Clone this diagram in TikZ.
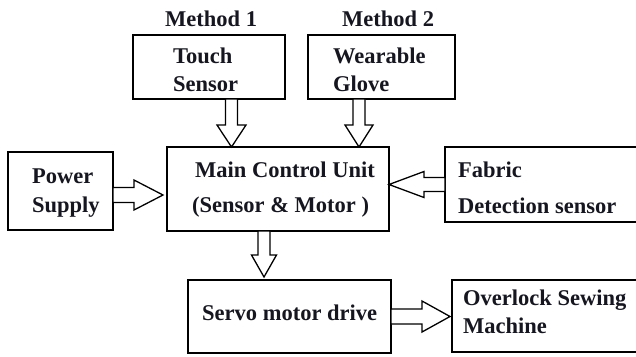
\documentclass[tikz,border=0pt]{standalone}
\usepackage{fontspec}
\setmainfont{Liberation Serif}
\usetikzlibrary{calc}
\definecolor{ink}{HTML}{161620}
\tikzset{
  blk/.style={draw=black, line width=2.6pt, fill=white, inner sep=0pt, outer sep=0pt, anchor=north west},
  lbl/.style={anchor=base west, inner sep=0pt, text=ink, font=\bfseries\fontsize{22.5}{27}\selectfont},
  arr/.style={draw=black, line width=1.3pt, fill=white, line join=miter}
}
\newcommand\blkarrow[5]{%
  \coordinate (hb) at ($(#2)!#5!(#1)$);
  \draw[arr] ($(#1)!#3!90:(#2)$) -- ($(hb)!#3!90:(#2)$) -- ($(hb)!#4!90:(#2)$) -- (#2)
     -- ($(hb)!#4!-90:(#2)$) -- ($(hb)!#3!-90:(#2)$) -- ($(#1)!#3!-90:(#2)$) -- cycle;}
\begin{document}
\begin{tikzpicture}[x=1pt,y=-1pt]
\useasboundingbox (0,0) rectangle (636,356);
% boxes
\node[blk, minimum width=152pt, minimum height=64pt] (ts) at (133,35) {};
\node[blk, minimum width=147pt, minimum height=64pt] (wg) at (308,35) {};
\node[blk, minimum width=105pt, minimum height=78pt] (ps) at (8,152) {};
\node[blk, minimum width=222pt, minimum height=84pt] (mcu) at (167,147) {};
\node[blk, minimum width=195pt, minimum height=75pt] (fd) at (445,147) {};
\node[blk, minimum width=203pt, minimum height=73pt] (smd) at (188,280) {};
\node[blk, minimum width=190pt, minimum height=72pt] (osm) at (452,280) {};
% texts
\node[lbl] (m1) at (165,26) {Method 1};
\node[lbl] (m2) at (342,26) {Method 2};
\node[lbl] (t1) at (173,63) {Touch};
\node[lbl] (t2) at (173,91) {Sensor};
\node[lbl] (w1) at (333,63) {Wearable};
\node[lbl] (w2) at (333,91) {Glove};
\node[lbl] (p1) at (32,183) {Power};
\node[lbl] (p2) at (32,212) {Supply};
\node[lbl] (c1) at (195,177) {Main Control Unit};
\node[lbl] (c2) at (192,212) {(Sensor \& Motor )};
\node[lbl] (f1) at (458,177) {Fabric};
\node[lbl] (f2) at (458,213) {Detection sensor};
\node[lbl] (s1) at (202,320) {Servo motor drive};
\node[lbl] (o1) at (463,305) {Overlock Sewing};
\node[lbl] (o2) at (463,333) {Machine};
% arrows
\coordinate (a1s) at ([xshift=22.5pt]ts.south);
\coordinate (a1e) at (a1s |- mcu.north);
\blkarrow{a1s}{a1e}{6pt}{14.5pt}{22pt}
\coordinate (a2s) at ([xshift=-22.5pt]wg.south);
\coordinate (a2e) at (a2s |- mcu.north);
\blkarrow{a2s}{a2e}{6pt}{14pt}{22pt}
\coordinate (a3s) at ([yshift=-4pt]ps.east);
\coordinate (a3e) at ([xshift=-4pt]a3s -| mcu.west);
\blkarrow{a3s}{a3e}{7.5pt}{15pt}{29pt}
\coordinate (a4s) at (fd.west);
\coordinate (a4e) at (a4s -| mcu.east);
\blkarrow{a4s}{a4e}{7pt}{13pt}{35pt}
\coordinate (a5s) at ([xshift=-14pt]mcu.south);
\coordinate (a5e) at ([yshift=3pt]a5s |- smd.north);
\blkarrow{a5s}{a5e}{6pt}{12.5pt}{22pt}
\coordinate (a6s) at (smd.east);
\coordinate (a6e) at ([xshift=-2pt]a6s -| osm.west);
\blkarrow{a6s}{a6e}{7.5pt}{15.5pt}{28pt}
\end{tikzpicture}
\end{document}
